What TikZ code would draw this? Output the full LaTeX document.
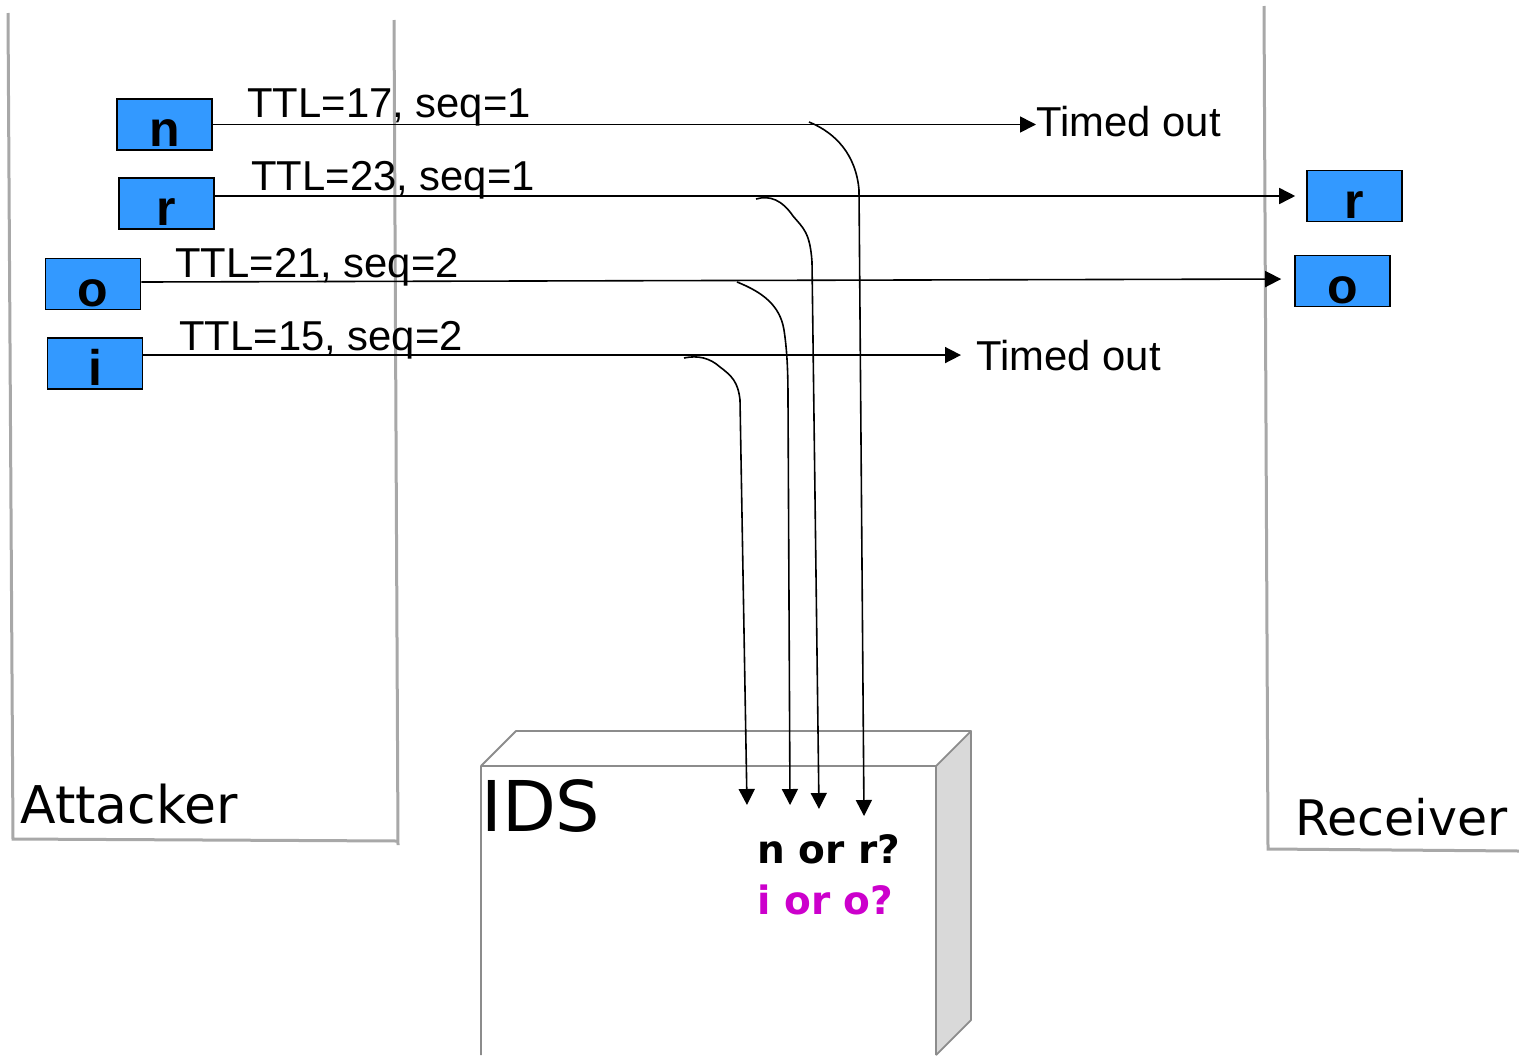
\documentclass[tikz,border=0pt]{standalone}
\usepackage{fontspec}
\setmainfont{Liberation Sans}
\newfontfamily\comicfont{DejaVu Sans}
\usetikzlibrary{arrows.meta}
\definecolor{pktblue}{HTML}{3399FF}
\definecolor{panelgray}{HTML}{A8A8A8}
\definecolor{boxgray}{HTML}{8C8C8C}
\definecolor{sidegray}{HTML}{D9D9D9}
\definecolor{qmagenta}{HTML}{CC00CC}

\begin{document}
\begin{tikzpicture}[x=0.5pt,y=-0.5pt,
  pkt/.style={draw=black, line width=0.8pt, fill=pktblue,
    minimum width=47.5pt, minimum height=25.5pt, inner sep=0pt,
    text height=22pt, text depth=0pt,
    font=\fontsize{25pt}{25pt}\selectfont\bfseries},
  lbl/.style={anchor=base west, inner sep=0pt,
    font=\fontsize{20.9pt}{24pt}\selectfont},
  wire/.style={line width=0.8pt, -{Triangle[length=8pt,width=8pt]}},
  frame/.style={draw=panelgray, line width=1.5pt},
  hand/.style={anchor=base west, inner sep=0pt, font=\comicfont},
  ask/.style={anchor=base west, inner sep=0pt,
    font=\comicfont\bfseries\fontsize{19.5pt}{22pt}\selectfont}
]
\useasboundingbox (0,0) rectangle (1519,1055);

% Attacker and receiver panels
\draw[frame] (8,13) -- (13,839) -- (398,841);
\draw[frame] (394,20) -- (398,845);
\draw[frame] (1264,6) -- (1268,849) -- (1519,851);
\node[hand, font=\comicfont\fontsize{26pt}{30pt}\selectfont] (att) at (20,823) {Attacker};
\node[hand, font=\comicfont\fontsize{24.5pt}{28pt}\selectfont] (rcv) at (1295,835) {Receiver};

% IDS box
\fill[sidegray] (936,766) -- (971,731) -- (971,1020) -- (936,1055) -- cycle;
\draw[draw=boxgray, line width=0.9pt, line join=round]
  (481,1055) -- (481,766) -- (936,766) -- (936,1055)
  (481,766) -- (516,731) -- (971,731) -- (936,766)
  (971,731) -- (971,1020) -- (936,1055);
\node[hand, font=\comicfont\fontsize{35pt}{40pt}\selectfont] (ids) at (481,831) {IDS};
\node[ask] (q1) at (757,863) {n or r?};
\node[ask, text=qmagenta] (q2) at (757,914) {i or o?};

% Packets at the attacker
\node[pkt] (n) at (164.5,124.5) {n};
\node[pkt] (r) at (166.5,203.5) {r};
\node[pkt] (o) at (93,284) {o};
\node[pkt] (i) at (95,363.5) {i};

% Packets at the receiver
\node[pkt] (rr) at (1354.5,196) {r};
\node[pkt] (ro) at (1342.5,281) {o};

% Time-out labels
\node[lbl] (to1) at (1036,136) {Timed out};
\node[lbl, inner xsep=7.5pt] (to2) at (961,370) {Timed out};

% Packet paths
\draw[wire] (n.east) -- (to1.west |- n.east);
\draw[wire, shorten >=5.5pt] (r.east |- rr.west) -- (rr.west);
\draw[wire, shorten >=6.5pt] ([yshift=1pt]o.east) -- ([yshift=1pt]ro.west);
\draw[wire] (i.east |- to2.west) -- (to2.west);

\node[lbl] (l1) at (247,117) {TTL=17, seq=1};
\node[lbl] (l2) at (251,190) {TTL=23, seq=1};
\node[lbl] (l3) at (175,277) {TTL=21, seq=2};
\node[lbl] (l4) at (179,350) {TTL=15, seq=2};

% Copies seen by the IDS
\coordinate (c1) at (809,122);
\coordinate (c2) at (756,199);
\coordinate (c3) at (737,282);
\coordinate (c4) at (684,358);
\coordinate (t1) at (864,816);
\coordinate (t2) at (819,809);
\coordinate (t3) at (790,805);
\coordinate (t4) at (747,805);

\draw[wire] (c1) .. controls (836,133) and (856,155) .. (859,190) -- (t1);
\draw[wire] (c2) .. controls (770,195) and (782,200) .. (793,216)
  .. controls (803,228) and (810,232) .. (812,262) -- (t2);
\draw[wire] (c3) .. controls (762,292) and (780,305) .. (784,330)
  .. controls (787,350) and (788,370) .. (788,400) -- (t3);
\draw[wire] (c4) .. controls (698,355) and (710,358) .. (720,367)
  .. controls (732,376) and (738,382) .. (740,400) -- (t4);
\end{tikzpicture}
\end{document}
